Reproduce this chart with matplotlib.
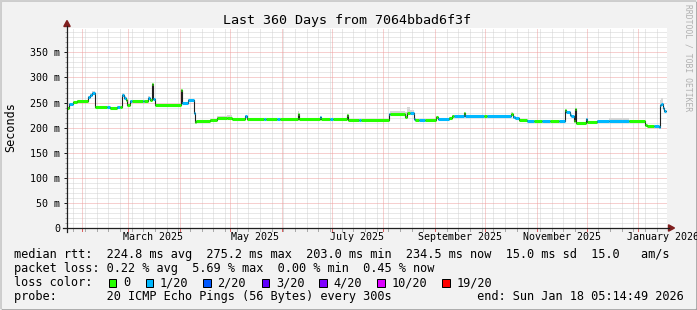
import numpy as np
import matplotlib
matplotlib.use("Agg")
import matplotlib.pyplot as plt
import matplotlib.dates as mdates
from matplotlib.ticker import MultipleLocator, FuncFormatter, FixedLocator
from matplotlib.patches import Rectangle, Polygon
from matplotlib.lines import Line2D
from matplotlib.transforms import blended_transform_factory
from datetime import datetime, timedelta

W, H = 697, 310
start = datetime(2025, 1, 23, 5, 14, 49)
end = datetime(2026, 1, 18, 5, 14, 49)

# ---- data: step segments (start day offset, median rtt ms, loss bucket, smoke spread ms) ----
seg_day = [0, 1.2, 3.6, 6, 12.6, 13.8, 15, 16.8, 24, 25.5, 30, 31.5, 33, 34, 35.3, 36, 37.7, 39,
           45.5, 46.3, 48.5, 50, 51, 51.6, 52.7, 68.3, 68.9, 72.5, 76, 76.7, 77.3, 85.7, 89.9,
           96, 99, 106.6, 107.8, 118, 119.5, 126, 127.5, 138.4, 139, 151.5, 152.5, 158, 159.5,
           167.7, 168.3, 175, 176.5, 192.9, 194, 202.5, 203.7, 206, 207.9, 209, 211.4, 215,
           221.6, 222.5, 229.4, 231, 232.4, 238.4, 239, 250, 252, 266.6, 267.5, 269, 271.3,
           276, 280, 285, 290, 295.3, 299, 299.6, 301.5, 302.5, 304, 305, 305.6, 311.5, 312.2,
           318, 325, 337.2, 346.8, 348, 352, 355.2, 355.8, 356.4, 357.5, 358.2]
seg_rtt = [240, 247, 251, 254, 261, 266, 270, 241, 242, 240, 241, 241, 266, 260, 255, 246, 254, 254,
           254, 254, 260, 255, 286, 258, 246, 276, 249, 256, 229, 211, 213, 216, 219,
           219, 218, 224, 217, 217, 217, 217, 217, 228, 217, 222, 218, 217, 217,
           225, 216, 216, 216, 227, 228, 222, 229, 229, 218, 216, 216, 216,
           221, 218, 220, 223, 223, 229, 223, 223, 223, 227, 222, 219, 215,
           214, 213, 213, 213, 214, 236, 231, 226, 224, 214, 238, 210, 218, 212,
           213, 214, 213, 206, 204, 203, 201, 245, 248, 240, 233]
seg_loss = [0, 1, 0, 0, 1, 1, 1, 0, 1, 0, 1, 0, 1, 1, 0, 0, 1, 0,
            1, 0, 1, 0, 0, 1, 0, 0, 1, 1, 1, 0, 0, 0, 0,
            0, 0, 1, 0, 1, 0, 1, 0, 0, 0, 1, 0, 1, 0,
            0, 0, 1, 0, 1, 0, 0, 0, 1, 1, 0, 1, 0,
            0, 1, 0, 0, 1, 0, 1, 0, 1, 0, 1, 1, 0,
            1, 0, 1, 0, 1, 0, 1, 1, 1, 0, 0, 0, 1, 0,
            1, 1, 0, 0, 0, 1, 1, 1, 1, 1, 1]
seg_smoke = [2, 2, 2, 2, 3, 3, 3, 2, 2, 2, 2, 2, 3, 3, 2, 2, 2, 2,
             2, 2, 3, 2, 2, 2, 2, 2, 2, 2, 2, 2, 2, 2, 5,
             6, 2, 2, 2, 2, 2, 2, 2, 6, 2, 2, 2, 2, 2,
             2, 2, 2, 2, 3, 5, 9, 12, 6, 3, 2, 2, 2,
             2, 2, 2, 2, 2, 2, 2, 2, 2, 4, 2, 2, 2,
             2, 2, 2, 2, 2, 2, 2, 2, 2, 2, 2, 2, 2, 2,
             3, 5, 2, 2, 2, 2, 2, 10, 12, 4, 2]
last_day = 359.4

loss_labels = ["0", "1/20", "2/20", "3/20", "4/20", "10/20", "19/20"]
loss_colors = ["#26ff00", "#00b8ff", "#0059ff", "#5e00ff", "#7e00ff", "#dd00ff", "#ff0000"]
label_months = [(2025, 3), (2025, 5), (2025, 7), (2025, 9), (2025, 11), (2026, 1)]

title = "Last 360 Days from 7064bbad6f3f"
ylabel = "Seconds"
row_rtt = "median rtt:  224.8 ms avg  275.2 ms max  203.0 ms min  234.5 ms now  15.0 ms sd  15.0   am/s"
row_loss = "packet loss: 0.22 % avg  5.69 % max  0.00 % min  0.45 % now"
row_color = "loss color:"
row_probe = "probe:       20 ICMP Echo Pings (56 Bytes) every 300s" + " " * 12 + "end: Sun Jan 18 05:14:49 2026"
watermark = "RRDTOOL / TOBI OETIKER"

MONO = "DejaVu Sans Mono"
BG = "#f2f2f2"

def fx(px):
    return px / W

def fy(py):
    return 1 - py / H

fig = plt.figure(figsize=(W / 100, H / 100), dpi=100, facecolor=BG)

# border shading
fig.patches.append(Rectangle((0, fy(H - 2)), fx(W - 2), 1, transform=fig.transFigure, color="#cfcfcf", zorder=-6))
fig.patches.append(Rectangle((fx(2), 0), 1, fy(2), transform=fig.transFigure, color="#9e9e9e", zorder=-5))
fig.patches.append(Rectangle((fx(2), fy(H - 2)), fx(W - 4), fy(2) - fy(H - 2), transform=fig.transFigure,
                             color=BG, zorder=-4))

ax = fig.add_axes([fx(67), fy(228), fx(600), 200 / H])
ax.set_facecolor("white")
for s in ax.spines.values():
    s.set_visible(False)

t0 = mdates.date2num(start)
t1 = mdates.date2num(end)
ax.set_xlim(t0, t1)
ax.set_ylim(0, 398.6)

# grid
ax.yaxis.set_major_locator(MultipleLocator(50))
ax.yaxis.set_minor_locator(MultipleLocator(10))
ax.yaxis.set_major_formatter(FuncFormatter(lambda v, p: "0" if v == 0 else f"{v:.0f} m"))
ax.grid(False)
for v in np.arange(10, 400, 10):
    if v % 50 == 0:
        ax.axhline(v, color="#eea0a0", lw=0.72, ls=(0, (1, 1)), zorder=1)
    else:
        ax.axhline(v, color="#d2d2d2", lw=0.72, ls=(0, (1, 1)), zorder=0.5)

month_starts = []
d = datetime(2025, 2, 1)
while d < end:
    month_starts.append(d)
    d = datetime(d.year + (d.month // 12), d.month % 12 + 1, 1)
weeks = []
d = datetime(2025, 1, 27)
while d < end:
    weeks.append(d)
    d += timedelta(days=7)
month_nums = [mdates.date2num(m) for m in month_starts]
for w in weeks:
    wn = mdates.date2num(w)
    if min(abs(wn - m) for m in month_nums) > 0.5:
        ax.axvline(wn, color="#d2d2d2", lw=0.72, ls=(0, (1, 1)), zorder=0.5)
for mn in month_nums:
    ax.axvline(mn, color="#eea0a0", lw=0.72, ls=(0, (1, 1)), zorder=1)

# tick marks below x axis
trans = blended_transform_factory(ax.transData, ax.transAxes)
for w in weeks:
    wn = mdates.date2num(w)
    ax.plot([wn, wn], [0, -3 / 200], transform=trans, color="#aaaaaa", lw=0.72, clip_on=False, zorder=3)
for mn in month_nums:
    ax.plot([mn, mn], [0, -3 / 200], transform=trans, color="#dd6060", lw=0.72, clip_on=False, zorder=3)

# x labels
ax.xaxis.set_major_locator(FixedLocator([mdates.date2num(datetime(y, m, 16)) for y, m in label_months]))
ax.xaxis.set_major_formatter(FuncFormatter(lambda v, p: mdates.num2date(v).strftime("%B %Y")))
ax.xaxis.set_minor_locator(FixedLocator([]))
ax.tick_params(axis="x", which="major", length=0, pad=3.2, labelsize=7.2, labelcolor="#000000")
ax.tick_params(axis="y", which="major", length=3 * 0.72, width=0.72, color="#1f1f1f", pad=2.6,
               labelsize=7.2, labelcolor="#000000")
ax.tick_params(axis="y", which="minor", length=2 * 0.72, width=0.72, color="#aaaaaa")
for lab in ax.get_xticklabels() + ax.get_yticklabels():
    lab.set_family(MONO)

# data
xs = t0 + np.array(seg_day + [last_day])
ys = np.array(seg_rtt + [seg_rtt[-1]], dtype=float)
sm = np.array(seg_smoke + [seg_smoke[-1]], dtype=float)
ax.fill_between(xs, ys - 1.5, ys + sm, step="post", color="#d6d6d6", lw=0, zorder=2)
ax.step(xs, ys, where="post", color="#202020", lw=0.8, zorder=3)
ax.hlines(seg_rtt, xs[:-1], xs[1:], colors=[loss_colors[l] for l in seg_loss], lw=2.2,
          zorder=4, capstyle="butt")

# axes lines & arrows
fig.lines.append(Line2D([fx(63), fx(669)], [fy(228), fy(228)], transform=fig.transFigure, color="#1f1f1f", lw=0.9))
fig.lines.append(Line2D([fx(67), fx(67)], [fy(232), fy(26)], transform=fig.transFigure, color="#1f1f1f", lw=0.9))
fig.patches.append(Polygon([[fx(63.8), fy(26.5)], [fx(70.2), fy(26.5)], [fx(67), fy(20.5)]],
                           closed=True, transform=fig.transFigure, color="#801f1f"))
fig.patches.append(Polygon([[fx(668.5), fy(224.8)], [fx(668.5), fy(231.2)], [fx(674.5), fy(228)]],
                           closed=True, transform=fig.transFigure, color="#801f1f"))

# texts
fig.text(fx(347), fy(24), title, family=MONO, fontsize=9.6, ha="center", va="baseline", color="#000000")
fig.text(fx(10.5), fy(127), ylabel, family=MONO, fontsize=8.5, rotation=90, ha="center", va="center")
fig.text(fx(688), fy(58), watermark, family=MONO, fontsize=5.8, rotation=270, ha="center", va="center",
         color="#b0b0b0")

fs = 8.54
fig.text(fx(14.5), fy(258.3), row_rtt, family=MONO, fontsize=fs, ha="left", va="baseline")
fig.text(fx(14.5), fy(272.3), row_loss, family=MONO, fontsize=fs, ha="left", va="baseline")
fig.text(fx(14.5), fy(286.3), row_color, family=MONO, fontsize=fs, ha="left", va="baseline")
fig.text(fx(14.5), fy(300.3), row_probe, family=MONO, fontsize=fs, ha="left", va="baseline")

box_x = [108.7, 145.7, 203.3, 261.7, 319.3, 377.3, 442.3]
for bx, lab, col in zip(box_x, loss_labels, loss_colors):
    fig.patches.append(Rectangle((fx(bx), fy(286.5)), fx(7.3), 7.3 / H, transform=fig.transFigure,
                                 facecolor=col, edgecolor="#000000", lw=0.72))
    fig.text(fx(bx + 14.3), fy(286.3), lab, family=MONO, fontsize=fs, ha="left", va="baseline")

fig.savefig("out.png", dpi=100, facecolor=BG)
